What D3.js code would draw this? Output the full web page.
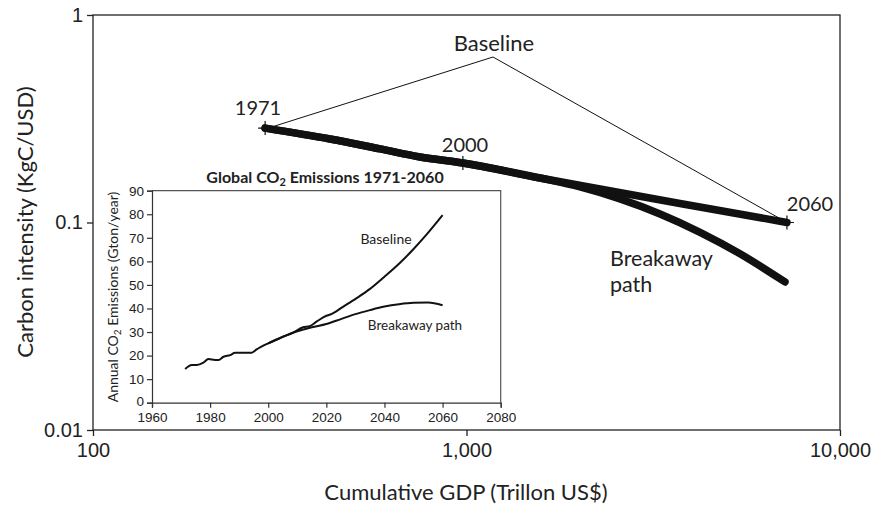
<!DOCTYPE html>
<html>
<head>
<meta charset="utf-8">
<script src="https://cdn.jsdelivr.net/npm/d3@7"></script>
<style>
  body { margin: 0; background: #fff; }
  svg { font-family: Lato, "Open Sans", sans-serif; }
</style>
</head>
<body>
<svg width="872" height="506"></svg>
<script>
// main chart: cumulative GDP vs carbon intensity
const xTicks = [100, 1000, 10000];
const yTicks = [0.01, 0.1, 1];

const baselineGdp = [289, 431, 587, 751, 978, 1573, 2278, 3729, 7210];
const baselineIntensity = [0.285, 0.2526, 0.2263, 0.2068, 0.1935, 0.1638, 0.145, 0.1235, 0.1];

const breakawayGdp = [289, 431, 587, 751, 978, 1573, 2013, 2576, 3297, 4220, 5398, 7124];
const breakawayIntensity = [0.285, 0.2526, 0.2263, 0.2068, 0.1935, 0.1638, 0.1484, 0.1299, 0.1099, 0.0897, 0.0707, 0.0517];

const markerYears = ["1971", "2000", "2060"];
const markerGdp = [289, 978, 7210];
const markerIntensity = [0.285, 0.1935, 0.1];

// inset: annual emissions
const insetXTicks = [1960, 1980, 2000, 2020, 2040, 2060, 2080];
const insetYTicks = [0, 10, 20, 30, 40, 50, 60, 70, 80, 90];

const baseYears = [1971.4, 1973.7, 1975.4, 1977.7, 1979.4, 1981.7, 1982.9, 1984.6, 1986.9, 1988.6, 1994.3, 1996,
  2000, 2004.6, 2008.6, 2012, 2014.3, 2016.6, 2020, 2021.7, 2025.7, 2030.3, 2034.9, 2040, 2045.1, 2049.7, 2054.3, 2060];
const baseEmissions = [14.3, 16, 16, 17, 18.5, 18.1, 18.1, 19.5, 20.2, 21.2, 21.2, 22.6,
  25.2, 27.7, 29.8, 32, 32.5, 34.4, 36.9, 37.6, 40.7, 44.3, 48.2, 53.5, 59.1, 64.8, 71.1, 79.6];

const breakYears = [2000, 2005, 2010, 2015, 2020, 2025, 2030, 2035, 2040, 2045, 2050, 2055, 2060];
const breakEmissions = [25.2, 28, 30.3, 32, 33.4, 35.5, 37.6, 39.3, 40.8, 41.8, 42.4, 42.5, 41.4];

const svg = d3.select("svg");

const xScale = d3.scaleLog().domain([100, 10000]).range([93, 840]);
const yScale = d3.scaleLog().domain([0.01, 1]).range([430, 15]);

// frame
svg.append("rect")
  .attr("x", 93).attr("y", 15)
  .attr("width", 840 - 93).attr("height", 430 - 15)
  .attr("fill", "none").attr("stroke", "#222").attr("stroke-width", 1.3);

const xAxis = d3.axisBottom(xScale).tickValues(xTicks).tickFormat(d3.format(",")).tickSize(6).tickPadding(7);
const gx = svg.append("g").attr("transform", "translate(0,430)").call(xAxis);
gx.select(".domain").remove();
gx.selectAll("line").attr("stroke", "#222").attr("stroke-width", 1.3);
gx.selectAll("text").attr("font-size", 20).attr("fill", "#222");

const yAxis = d3.axisLeft(yScale).tickValues(yTicks).tickFormat((d) => String(d)).tickSize(6).tickPadding(4);
const gy = svg.append("g").attr("transform", "translate(93,0)").call(yAxis);
gy.select(".domain").remove();
gy.selectAll("line").attr("stroke", "#222").attr("stroke-width", 1.3);
gy.selectAll("text").attr("font-size", 20).attr("fill", "#222");

svg.append("text")
  .attr("x", 466).attr("y", 500)
  .attr("text-anchor", "middle").attr("font-size", 22).attr("fill", "#222")
  .text("Cumulative GDP (Trillon US$)");

svg.append("text")
  .attr("transform", "translate(33,222) rotate(-90)")
  .attr("text-anchor", "middle").attr("font-size", 22).attr("fill", "#222")
  .text("Carbon intensity (KgC/USD)");

const mainLine = d3.line()
  .x((d) => xScale(d[0]))
  .y((d) => yScale(d[1]))
  .curve(d3.curveMonotoneX);

svg.append("path")
  .datum(breakawayGdp.map((g, i) => [g, breakawayIntensity[i]]))
  .attr("d", mainLine)
  .attr("fill", "none").attr("stroke", "#111").attr("stroke-width", 7.5)
  .attr("stroke-linecap", "round").attr("stroke-linejoin", "round");

svg.append("path")
  .datum(baselineGdp.map((g, i) => [g, baselineIntensity[i]]))
  .attr("d", mainLine)
  .attr("fill", "none").attr("stroke", "#111").attr("stroke-width", 7.5)
  .attr("stroke-linecap", "round").attr("stroke-linejoin", "round");

// year markers
markerYears.forEach((yr, i) => {
  const mx = xScale(markerGdp[i]);
  const my = yScale(markerIntensity[i]);
  svg.append("path")
    .attr("d", `M${mx - 7},${my}H${mx + 7}M${mx},${my - 7}V${my + 7}`)
    .attr("stroke", "#111").attr("stroke-width", 1.2);
});

svg.append("text").attr("x", 258).attr("y", 115).attr("text-anchor", "middle")
  .attr("font-size", 20).attr("fill", "#222").text(markerYears[0]);
svg.append("text").attr("x", 465).attr("y", 152).attr("text-anchor", "middle")
  .attr("font-size", 20).attr("fill", "#222").text(markerYears[1]);
svg.append("text").attr("x", 810).attr("y", 211).attr("text-anchor", "middle")
  .attr("font-size", 20).attr("fill", "#222").text(markerYears[2]);

// baseline callout
const apexX = 493, apexY = 57;
svg.append("path")
  .attr("d", `M${xScale(markerGdp[0]) + 3},${yScale(markerIntensity[0])}L${apexX},${apexY}L${xScale(markerGdp[2])},${yScale(markerIntensity[2])}`)
  .attr("fill", "none").attr("stroke", "#111").attr("stroke-width", 1);
svg.append("text").attr("x", 494).attr("y", 51).attr("text-anchor", "middle")
  .attr("font-size", 22).attr("fill", "#222").text("Baseline");

svg.append("text").attr("x", 610).attr("y", 266).attr("font-size", 21.5).attr("fill", "#222").text("Breakaway");
svg.append("text").attr("x", 610).attr("y", 292).attr("font-size", 21.5).attr("fill", "#222").text("path");

// ---- inset ----
const inX = d3.scaleLinear().domain([1960, 2080]).range([152, 500.7]);
const inY = d3.scaleLinear().domain([0, 90]).range([402.7, 190.7]);

svg.append("path")
  .attr("d", `M${inX(1960)},${inY(90)}H${inX(2080)}V${inY(0)}`)
  .attr("fill", "none").attr("stroke", "#555").attr("stroke-width", 1.2);

const inXAxis = d3.axisBottom(inX).tickValues(insetXTicks).tickFormat(d3.format("d")).tickSize(5).tickPadding(5);
const ginx = svg.append("g").attr("transform", `translate(0,${inY(0)})`).call(inXAxis);
ginx.selectAll("path, line").attr("stroke", "#333").attr("stroke-width", 1.2);
ginx.selectAll("text").attr("font-size", 13.5).attr("fill", "#222");

const inYAxis = d3.axisLeft(inY).tickValues(insetYTicks).tickSize(5).tickPadding(3);
const giny = svg.append("g").attr("transform", `translate(${inX(1960)},0)`).call(inYAxis);
giny.selectAll("path, line").attr("stroke", "#333").attr("stroke-width", 1.2);
giny.selectAll("text").attr("font-size", 13.5).attr("fill", "#222");
// nudge the "0" label up a little so it clears the 1960 label
giny.selectAll(".tick").filter((d) => d === 0).select("text").attr("dy", "0.2em");

const title = svg.append("text").attr("x", 325).attr("y", 183).attr("text-anchor", "middle")
  .attr("font-size", 16).attr("font-weight", "bold").attr("fill", "#222");
title.append("tspan").text("Global CO");
title.append("tspan").attr("font-size", 11).attr("dy", 3).text("2");
title.append("tspan").attr("dy", -3).text(" Emissions 1971-2060");

const yTitle = svg.append("text")
  .attr("transform", "translate(118,297) rotate(-90)")
  .attr("text-anchor", "middle").attr("font-size", 14).attr("fill", "#222");
yTitle.append("tspan").text("Annual CO");
yTitle.append("tspan").attr("font-size", 10).attr("dy", 3).text("2");
yTitle.append("tspan").attr("dy", -3).text(" Emissions (Gton/year)");

const inLine = d3.line()
  .x((d) => inX(d[0]))
  .y((d) => inY(d[1]))
  .curve(d3.curveMonotoneX);

svg.append("path")
  .datum(baseYears.map((y, i) => [y, baseEmissions[i]]))
  .attr("d", inLine)
  .attr("fill", "none").attr("stroke", "#111").attr("stroke-width", 2);

svg.append("path")
  .datum(breakYears.map((y, i) => [y, breakEmissions[i]]))
  .attr("d", inLine)
  .attr("fill", "none").attr("stroke", "#111").attr("stroke-width", 2);

svg.append("text").attr("x", 386).attr("y", 244).attr("text-anchor", "middle")
  .attr("font-size", 14).attr("fill", "#222").text("Baseline");
svg.append("text").attr("x", 415).attr("y", 330).attr("text-anchor", "middle")
  .attr("font-size", 13.5).attr("fill", "#222").text("Breakaway path");
</script>
</body>
</html>
